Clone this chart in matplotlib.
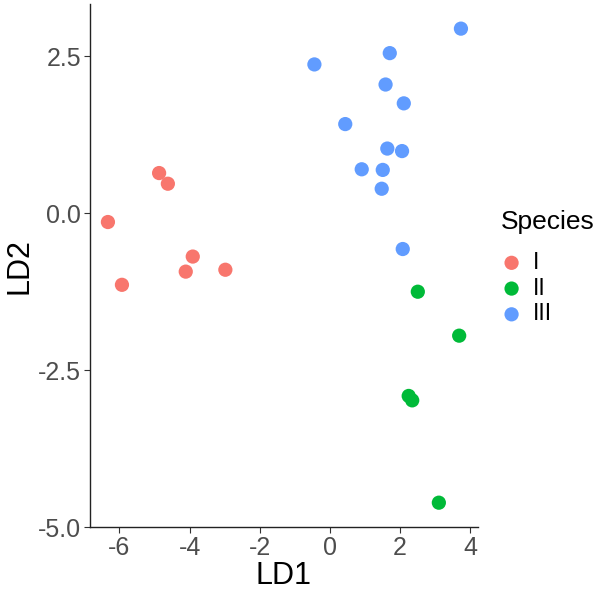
import matplotlib
matplotlib.use("Agg")
import matplotlib.pyplot as plt

plt.rcParams["font.family"] = ["Liberation Sans", "DejaVu Sans"]
plt.rcParams["axes.unicode_minus"] = False

species = ["I", "II", "III"]
colors = ["#F8766D", "#00BA38", "#619CFF"]

ld1_I = [-6.33, -5.93, -4.87, -4.62, -3.91, -4.11, -2.98]
ld2_I = [-0.14, -1.14, 0.64, 0.47, -0.69, -0.93, -0.90]

ld1_II = [2.51, 3.69, 2.25, 2.35, 3.11]
ld2_II = [-1.25, -1.95, -2.91, -2.98, -4.61]

ld1_III = [3.74, 1.71, -0.44, 1.59, 2.11, 0.44, 1.64, 2.06, 0.91, 1.51, 1.48, 2.08]
ld2_III = [2.94, 2.55, 2.37, 2.05, 1.75, 1.42, 1.03, 0.99, 0.70, 0.69, 0.39, -0.57]

xticks = [-6, -4, -2, 0, 2, 4]
yticks = [-5.0, -2.5, 0.0, 2.5]

fig = plt.figure(figsize=(6.04, 5.93), dpi=100)
ax = fig.add_axes([0.1485, 0.111, 0.6425, 0.882])

for xs, ys, c, lab in zip([ld1_I, ld1_II, ld1_III], [ld2_I, ld2_II, ld2_III], colors, species):
    ax.scatter(xs, ys, s=105, color=c, label=lab, edgecolors="none", zorder=3)

ax.set_xlim(-6.85, 4.22)
ax.set_ylim(-5.0, 3.33)
ax.set_xticks(xticks)
ax.set_yticks(yticks)
ax.set_yticklabels([f"{v:.1f}" for v in yticks])
for s in ["top", "right"]:
    ax.spines[s].set_visible(False)
for s in ["left", "bottom"]:
    ax.spines[s].set_linewidth(1.0)
    ax.spines[s].set_color("#222222")
ax.tick_params(length=4, width=0.8, colors="#333333", labelsize=18, labelcolor="#4D4D4D", pad=2)
ax.set_xlabel("LD1", fontsize=22, labelpad=1)
ax.set_ylabel("LD2", fontsize=22, labelpad=3)

leg = fig.legend(loc="upper left", bbox_to_anchor=(0.828, 0.577), frameon=False,
                 fontsize=16.5, handlelength=1.0, handletextpad=0.45,
                 labelspacing=0.12, borderpad=0, borderaxespad=0)
fig.text(0.8295, 1 - 229 / 593, "Species", fontsize=19, va="baseline", ha="left")

fig.savefig("out.png", dpi=100)
